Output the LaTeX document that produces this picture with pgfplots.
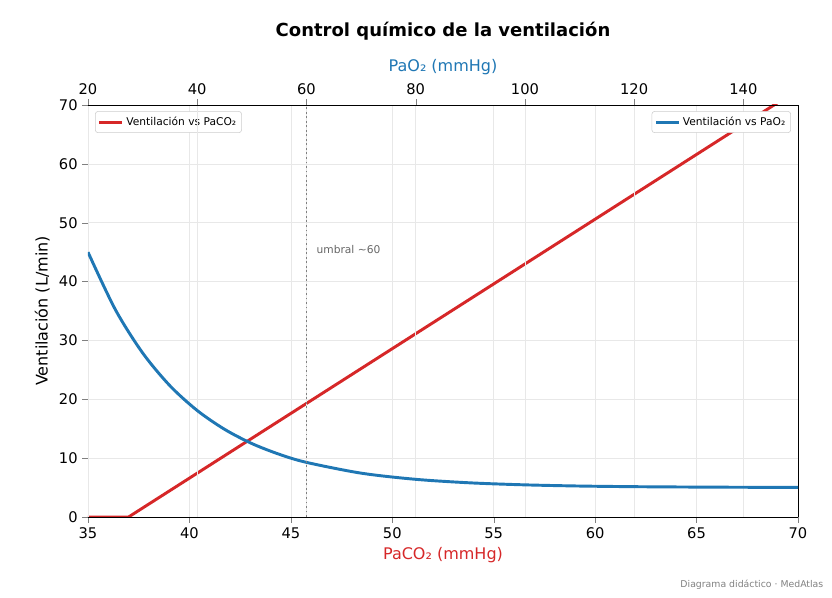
\documentclass[border=0pt]{standalone}
\usepackage{pgfplots}
\pgfplotsset{compat=1.18}
\usepackage{fontspec}
\setmainfont{DejaVu Sans}
\definecolor{cred}{HTML}{D62728}
\definecolor{cblue}{HTML}{1F77B4}
\begin{document}
\begin{tikzpicture}[x=1pt,y=1pt]
\path[use as bounding box] (-66pt,-60.75pt) rectangle (558pt,387.75pt);
\pgfplotsset{every axis/.append style={
  at={(0pt,0pt)}, anchor=south west,
  width=532.5pt, height=309pt, scale only axis,
  /pgf/number format/assume math mode=true,
  tick label style={font=\fontsize{11}{13}\selectfont},
  grid style={gray!18, line width=0.5pt},
  tick align=outside, ymin=0, ymax=70,
  legend style={font=\fontsize{8}{10}\selectfont, draw=gray!40, rounded corners=2pt, inner sep=2pt},
  legend cell align=left,
}}
\begin{axis}[name=ax, xmin=35, xmax=70, xtick={35,40,...,70}, ytick={0,10,...,70},
  axis x line*=bottom, axis y line*=left, grid=major,
  xlabel={PaCO₂ (mmHg)}, xlabel style={font=\fontsize{12}{14}\selectfont, text=cred},
  ylabel={Ventilación (L/min)}, ylabel style={font=\fontsize{12}{14}\selectfont},
  legend style={at={(0.01,0.985)}, anchor=north west}]
\addplot[cred, line width=2.2pt] coordinates {(35,0) (37,0) (69.8,72.16)};
\addlegendentry{Ventilación vs PaCO₂}
\end{axis}
\begin{axis}[xmin=20, xmax=150, xtick={20,40,...,140},
  axis x line*=top, axis y line*=right, yticklabels={}, ytick=\empty, xmajorgrids,
  xlabel={PaO₂ (mmHg)}, xlabel style={font=\fontsize{12}{14}\selectfont, text=cblue},
  legend style={at={(0.99,0.985)}, anchor=north east}]
\addplot[cblue, line width=2.2pt, smooth] coordinates {(20,45) (25,35.25) (30,27.88) (35,22.30) (40,18.09) (45,14.90) (50,12.48) (55,10.66) (60,9.28) (70,7.45) (80,6.40) (90,5.80) (100,5.46) (110,5.26) (120,5.15) (130,5.09) (140,5.05) (150,5.03)};
\addlegendentry{Ventilación vs PaO₂}
\addplot[gray, dotted, line width=1.4pt, forget plot] coordinates {(60,0) (60,70)};
\node[anchor=west, text=gray!80!black, font=\fontsize{8}{10}\selectfont] at (axis cs:61,45.5) {umbral \textasciitilde60};
\end{axis}
\node[font=\bfseries\fontsize{13.5}{16}\selectfont] at (266.25pt,364pt) {Control químico de la ventilación};
\node[anchor=south east, text=gray, font=\fontsize{7}{9}\selectfont] at (555pt,-58pt) {Diagrama didáctico · MedAtlas};
\end{tikzpicture}
\end{document}
